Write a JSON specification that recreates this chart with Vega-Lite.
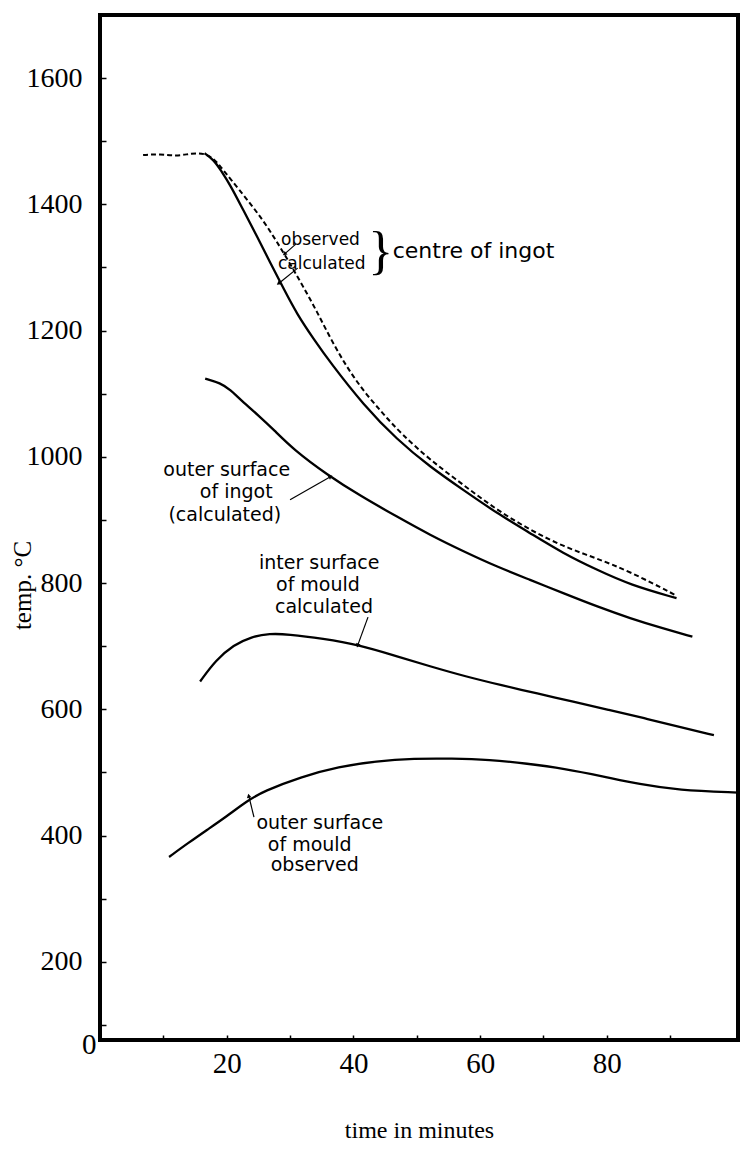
{
  "$schema": "https://vega.github.io/schema/vega-lite/v6.json",
  "width": 638,
  "height": 1025,
  "autosize": {"type": "none"},
  "padding": {"left": 100, "top": 15, "right": 3, "bottom": 113},
  "background": "white",
  "config": {
    "view": {"stroke": "black", "strokeWidth": 4},
    "axis": {"domain": false, "grid": false, "tickColor": "black", "labelColor": "black", "titleColor": "black"}
  },
  "datasets": {
    "curves": [
      {"series": "centre_obs", "t": 6.8, "temp": 1478},
      {"series": "centre_obs", "t": 9.5, "temp": 1480},
      {"series": "centre_obs", "t": 12.0, "temp": 1476},
      {"series": "centre_obs", "t": 14.5, "temp": 1481},
      {"series": "centre_obs", "t": 16.5, "temp": 1481},
      {"series": "centre_obs", "t": 18.0, "temp": 1472},
      {"series": "centre_obs", "t": 19.0, "temp": 1460},
      {"series": "centre_obs", "t": 20.6, "temp": 1440},
      {"series": "centre_obs", "t": 23.2, "temp": 1408},
      {"series": "centre_obs", "t": 25.8, "temp": 1374},
      {"series": "centre_obs", "t": 27.9, "temp": 1341},
      {"series": "centre_obs", "t": 30.0, "temp": 1306},
      {"series": "centre_obs", "t": 32.1, "temp": 1269},
      {"series": "centre_obs", "t": 34.2, "temp": 1231},
      {"series": "centre_obs", "t": 36.5, "temp": 1185},
      {"series": "centre_obs", "t": 38.9, "temp": 1143},
      {"series": "centre_obs", "t": 41.6, "temp": 1104},
      {"series": "centre_obs", "t": 44.7, "temp": 1068},
      {"series": "centre_obs", "t": 47.5, "temp": 1037},
      {"series": "centre_obs", "t": 52.1, "temp": 995},
      {"series": "centre_obs", "t": 57.4, "temp": 955},
      {"series": "centre_obs", "t": 62.6, "temp": 916},
      {"series": "centre_obs", "t": 67.9, "temp": 884},
      {"series": "centre_obs", "t": 73.1, "temp": 858},
      {"series": "centre_obs", "t": 78.4, "temp": 839},
      {"series": "centre_obs", "t": 83.7, "temp": 818},
      {"series": "centre_obs", "t": 90.8, "temp": 781},
      {"series": "centre_calc", "t": 16.5, "temp": 1481},
      {"series": "centre_calc", "t": 18.0, "temp": 1470},
      {"series": "centre_calc", "t": 19.0, "temp": 1455},
      {"series": "centre_calc", "t": 20.6, "temp": 1430},
      {"series": "centre_calc", "t": 22.6, "temp": 1391},
      {"series": "centre_calc", "t": 24.8, "temp": 1349},
      {"series": "centre_calc", "t": 26.9, "temp": 1307},
      {"series": "centre_calc", "t": 29.0, "temp": 1266},
      {"series": "centre_calc", "t": 31.1, "temp": 1226},
      {"series": "centre_calc", "t": 33.7, "temp": 1187},
      {"series": "centre_calc", "t": 36.3, "temp": 1150},
      {"series": "centre_calc", "t": 41.6, "temp": 1082},
      {"series": "centre_calc", "t": 46.9, "temp": 1027},
      {"series": "centre_calc", "t": 52.1, "temp": 984},
      {"series": "centre_calc", "t": 57.4, "temp": 947},
      {"series": "centre_calc", "t": 62.6, "temp": 911},
      {"series": "centre_calc", "t": 67.9, "temp": 879},
      {"series": "centre_calc", "t": 73.1, "temp": 847},
      {"series": "centre_calc", "t": 78.4, "temp": 821},
      {"series": "centre_calc", "t": 83.7, "temp": 797},
      {"series": "centre_calc", "t": 91.0, "temp": 776},
      {"series": "ingot_surface", "t": 16.6, "temp": 1124},
      {"series": "ingot_surface", "t": 19.0, "temp": 1117},
      {"series": "ingot_surface", "t": 20.6, "temp": 1106},
      {"series": "ingot_surface", "t": 22.2, "temp": 1090},
      {"series": "ingot_surface", "t": 25.3, "temp": 1063},
      {"series": "ingot_surface", "t": 27.4, "temp": 1043},
      {"series": "ingot_surface", "t": 30.6, "temp": 1011},
      {"series": "ingot_surface", "t": 35.8, "temp": 972},
      {"series": "ingot_surface", "t": 41.1, "temp": 938},
      {"series": "ingot_surface", "t": 46.9, "temp": 905},
      {"series": "ingot_surface", "t": 52.1, "temp": 876},
      {"series": "ingot_surface", "t": 57.4, "temp": 850},
      {"series": "ingot_surface", "t": 62.6, "temp": 826},
      {"series": "ingot_surface", "t": 67.9, "temp": 805},
      {"series": "ingot_surface", "t": 73.1, "temp": 784},
      {"series": "ingot_surface", "t": 78.4, "temp": 763},
      {"series": "ingot_surface", "t": 83.7, "temp": 744},
      {"series": "ingot_surface", "t": 88.9, "temp": 728},
      {"series": "ingot_surface", "t": 93.5, "temp": 715},
      {"series": "mould_inner", "t": 15.8, "temp": 644},
      {"series": "mould_inner", "t": 18.3, "temp": 678},
      {"series": "mould_inner", "t": 21.1, "temp": 702},
      {"series": "mould_inner", "t": 23.9, "temp": 715},
      {"series": "mould_inner", "t": 26.8, "temp": 720},
      {"series": "mould_inner", "t": 29.6, "temp": 719},
      {"series": "mould_inner", "t": 35.2, "temp": 712},
      {"series": "mould_inner", "t": 40.9, "temp": 702},
      {"series": "mould_inner", "t": 46.5, "temp": 685},
      {"series": "mould_inner", "t": 52.1, "temp": 668},
      {"series": "mould_inner", "t": 57.7, "temp": 652},
      {"series": "mould_inner", "t": 63.4, "temp": 638},
      {"series": "mould_inner", "t": 69.0, "temp": 625},
      {"series": "mould_inner", "t": 74.7, "temp": 612},
      {"series": "mould_inner", "t": 80.3, "temp": 599},
      {"series": "mould_inner", "t": 85.9, "temp": 586},
      {"series": "mould_inner", "t": 91.5, "temp": 572},
      {"series": "mould_inner", "t": 96.9, "temp": 559},
      {"series": "mould_outer", "t": 10.9, "temp": 366},
      {"series": "mould_outer", "t": 13.9, "temp": 388},
      {"series": "mould_outer", "t": 16.9, "temp": 409},
      {"series": "mould_outer", "t": 19.8, "temp": 429},
      {"series": "mould_outer", "t": 23.4, "temp": 456},
      {"series": "mould_outer", "t": 25.8, "temp": 470},
      {"series": "mould_outer", "t": 31.7, "temp": 493},
      {"series": "mould_outer", "t": 37.7, "temp": 509},
      {"series": "mould_outer", "t": 43.6, "temp": 518},
      {"series": "mould_outer", "t": 49.6, "temp": 522},
      {"series": "mould_outer", "t": 55.5, "temp": 522},
      {"series": "mould_outer", "t": 61.5, "temp": 520},
      {"series": "mould_outer", "t": 67.4, "temp": 514},
      {"series": "mould_outer", "t": 73.3, "temp": 506},
      {"series": "mould_outer", "t": 79.3, "temp": 494},
      {"series": "mould_outer", "t": 85.2, "temp": 481},
      {"series": "mould_outer", "t": 91.2, "temp": 472},
      {"series": "mould_outer", "t": 100.7, "temp": 468}
    ],
    "arrows": [
      {"arrow": "observed", "t": 29.2, "temp": 1322, "t2": 30.9, "temp2": 1337},
      {"arrow": "calculated", "t": 28.25, "temp": 1275, "t2": 31.2, "temp2": 1299},
      {"arrow": "ingot_surface", "t": 36.3, "temp": 968, "t2": 30.0, "temp2": 932},
      {"arrow": "mould_inner", "t": 40.7, "temp": 702, "t2": 42.3, "temp2": 746},
      {"arrow": "mould_outer", "t": 23.5, "temp": 462, "t2": 24.3, "temp2": 429}
    ],
    "labels": [
      {"text": "outer surface", "t": 20.0, "temp": 979},
      {"text": "of ingot", "t": 21.5, "temp": 944},
      {"text": "(calculated)", "t": 19.7, "temp": 908},
      {"text": "inter surface", "t": 34.6, "temp": 832},
      {"text": "of mould", "t": 34.4, "temp": 797},
      {"text": "calculated", "t": 35.35, "temp": 762},
      {"text": "outer surface", "t": 34.7, "temp": 420},
      {"text": "of mould", "t": 33.1, "temp": 385},
      {"text": "observed", "t": 33.9, "temp": 353}
    ],
    "centre_pair": [
      {"text": "observed", "t": 34.8, "temp": 1343},
      {"text": "calculated", "t": 35.0, "temp": 1305}
    ],
    "group_label": [
      {"text": "centre of ingot", "t": 46.2, "temp": 1326}
    ],
    "brace": [
      {"text": "}", "t": 44.3, "temp": 1324}
    ]
  },
  "encoding": {
    "x": {
      "field": "t",
      "type": "quantitative",
      "scale": {"domain": [0, 100.7], "nice": false, "zero": false},
      "axis": {
        "values": [0, 10, 20, 30, 40, 50, 60, 70, 80, 90],
        "format": "d",
        "labelExpr": "datum.value % 20 === 0 ? datum.label : ''",
        "tickSize": -5,
        "tickWidth": 1.5,
        "labelPadding": {"condition": {"test": "datum.value === 0", "value": -5}, "value": 14},
        "labelAlign": {"condition": {"test": "datum.value === 0", "value": "right"}, "value": "center"},
        "labelOffset": {"condition": {"test": "datum.value === 0", "value": -4}, "value": 0},
        "labelFont": "Liberation Serif",
        "labelFontSize": 29,
        "labelOverlap": false,
        "labelFlush": false,
        "title": "time in minutes",
        "titleFont": "Liberation Serif",
        "titleFontSize": 24,
        "titleFontWeight": "normal",
        "titleY": 90,
        "titleBaseline": "middle"
      }
    },
    "y": {
      "field": "temp",
      "type": "quantitative",
      "scale": {"domain": [76, 1700], "nice": false, "zero": false},
      "axis": {
        "values": [100, 200, 300, 400, 500, 600, 700, 800, 900, 1000, 1100, 1200, 1300, 1400, 1500, 1600],
        "format": "d",
        "labelExpr": "datum.value % 200 === 0 ? datum.label : ''",
        "tickSize": -6,
        "tickWidth": 1.5,
        "labelPadding": 24,
        "labelFont": "Liberation Serif",
        "labelFontSize": 28,
        "labelOverlap": false,
        "labelFlush": false,
        "title": "temp. °C",
        "titleFont": "Liberation Serif",
        "titleFontSize": 25,
        "titleFontWeight": "normal",
        "titleX": -78,
        "titleY": 570,
        "titleAngle": -90,
        "titleAlign": "center",
        "titleBaseline": "middle"
      }
    }
  },
  "layer": [
    {
      "data": {"name": "curves"},
      "transform": [{"filter": "datum.series !== 'centre_obs'"}],
      "mark": {"type": "line", "color": "black", "strokeWidth": 2.3, "interpolate": "basis"},
      "encoding": {"detail": {"field": "series"}}
    },
    {
      "data": {"name": "curves"},
      "transform": [{"filter": "datum.series === 'centre_obs'"}],
      "mark": {"type": "line", "color": "black", "strokeWidth": 2, "strokeDash": [5, 3], "interpolate": "basis"},
      "encoding": {}
    },
    {
      "data": {"name": "arrows"},
      "mark": {"type": "rule", "color": "black", "strokeWidth": 1.2},
      "encoding": {"x2": {"field": "t2"}, "y2": {"field": "temp2"}}
    },
    {
      "data": {"name": "arrows"},
      "transform": [{"filter": "datum.arrow === 'observed'"}],
      "mark": {"type": "point", "shape": "triangle", "filled": true, "color": "black", "size": 22, "angle": 231, "opacity": 1}
    },
    {
      "data": {"name": "arrows"},
      "transform": [{"filter": "datum.arrow === 'calculated'"}],
      "mark": {"type": "point", "shape": "triangle", "filled": true, "color": "black", "size": 22, "angle": 234, "opacity": 1}
    },
    {
      "data": {"name": "arrows"},
      "transform": [{"filter": "datum.arrow === 'ingot_surface'"}],
      "mark": {"type": "point", "shape": "triangle", "filled": true, "color": "black", "size": 22, "angle": 59, "opacity": 1}
    },
    {
      "data": {"name": "arrows"},
      "transform": [{"filter": "datum.arrow === 'mould_inner'"}],
      "mark": {"type": "point", "shape": "triangle", "filled": true, "color": "black", "size": 22, "angle": 200, "opacity": 1}
    },
    {
      "data": {"name": "arrows"},
      "transform": [{"filter": "datum.arrow === 'mould_outer'"}],
      "mark": {"type": "point", "shape": "triangle", "filled": true, "color": "black", "size": 22, "angle": 347, "opacity": 1}
    },
    {
      "data": {"name": "labels"},
      "mark": {"type": "text", "font": "DejaVu Sans", "fontSize": 19, "color": "black", "align": "center", "baseline": "middle"},
      "encoding": {"text": {"field": "text"}}
    },
    {
      "data": {"name": "centre_pair"},
      "mark": {"type": "text", "font": "DejaVu Sans", "fontSize": 17, "color": "black", "align": "center", "baseline": "middle"},
      "encoding": {"text": {"field": "text"}}
    },
    {
      "data": {"name": "group_label"},
      "mark": {"type": "text", "font": "DejaVu Sans", "fontSize": 22, "color": "black", "align": "left", "baseline": "middle"},
      "encoding": {"text": {"field": "text"}}
    },
    {
      "data": {"name": "brace"},
      "mark": {"type": "text", "font": "Liberation Serif", "fontSize": 52, "color": "black", "align": "center", "baseline": "middle"},
      "encoding": {"text": {"field": "text"}}
    }
  ]
}
